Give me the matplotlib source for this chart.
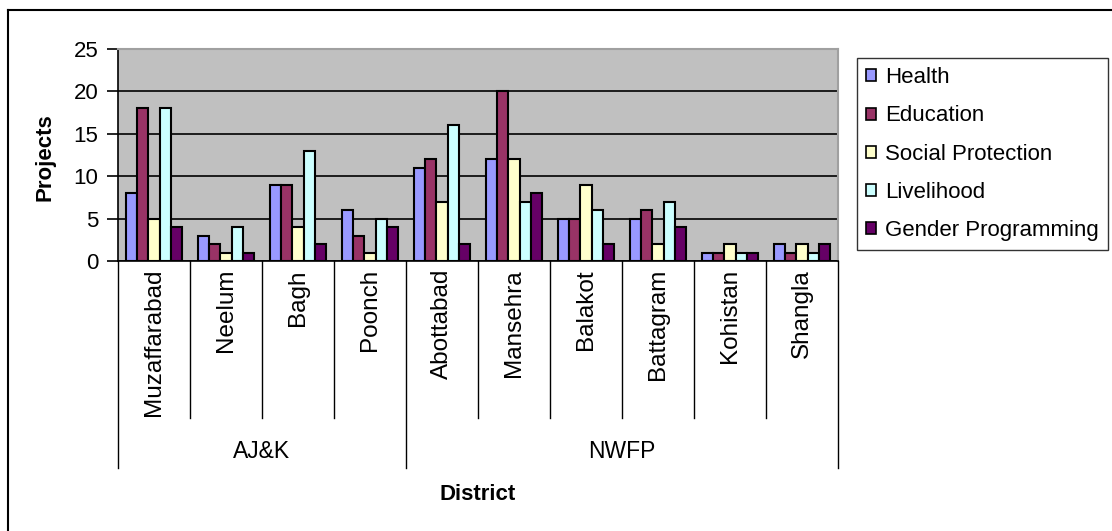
import matplotlib
matplotlib.use("Agg")
import matplotlib.pyplot as plt
import numpy as np
from matplotlib.lines import Line2D
from matplotlib.patches import Patch
from matplotlib.transforms import blended_transform_factory

plt.rcParams['font.family'] = ['Liberation Sans', 'DejaVu Sans']

districts = ["Muzaffarabad", "Neelum", "Bagh", "Poonch", "Abottabad",
             "Mansehra", "Balakot", "Battagram", "Kohistan", "Shangla"]
regions = ["AJ&K", "NWFP"]
region_sizes = [4, 6]
series_names = ["Health", "Education", "Social Protection", "Livelihood",
                "Gender Programming"]
health = [8, 3, 9, 6, 11, 12, 5, 5, 1, 2]
education = [18, 2, 9, 3, 12, 20, 5, 6, 1, 1]
social_protection = [5, 1, 4, 1, 7, 12, 9, 2, 2, 2]
livelihood = [18, 4, 13, 5, 16, 7, 6, 7, 1, 1]
gender = [4, 1, 2, 4, 2, 8, 2, 4, 1, 2]
series = [health, education, social_protection, livelihood, gender]
colors = ["#9999FF", "#993366", "#FFFFCC", "#CCFFFF", "#660066"]

W, H = 1112, 531
fig = plt.figure(figsize=(W / 100, H / 100), dpi=100)

def fx(px):
    return px / W

def fy(py):
    return 1 - py / H

L, R, T, B = 118, 838, 49, 261
ax = fig.add_axes([fx(L), fy(B), fx(R - L), (B - T) / H])
ax.set_facecolor("#C0C0C0")

n = len(districts)
x = np.arange(n)
bw = 0.156
for i, (vals, c, name) in enumerate(zip(series, colors, series_names)):
    ax.bar(x + (i - 2) * bw, vals, width=bw, color=c, edgecolor="black",
           linewidth=1.5, label=name, zorder=3)

ax.set_xlim(-0.5, n - 0.5)
ax.set_ylim(0, 25)
ax.set_yticks([0, 5, 10, 15, 20, 25])
ax.yaxis.grid(True, color="black", linewidth=1.2, zorder=1)
ax.set_axisbelow(True)
ax.tick_params(axis="y", direction="out", length=8, width=1.2,
               labelsize=16, pad=6)
ax.set_xticks([])
for s in ["top", "right"]:
    ax.spines[s].set_color("#A0A0A0")
    ax.spines[s].set_linewidth(1.5)
for s in ["left", "bottom"]:
    ax.spines[s].set_color("black")
    ax.spines[s].set_linewidth(1.2)

# category axis labels and separators
tr = blended_transform_factory(ax.transData, fig.transFigure)
for i, d in enumerate(districts):
    ax.text(i, fy(269), d, transform=tr, rotation=90, ha="center", va="top",
            fontsize=17.5)
bounds = np.arange(n + 1) - 0.5
group_edges = np.concatenate([[0], np.cumsum(region_sizes)])
for b_i, bx in enumerate(bounds):
    long = b_i in group_edges
    y_end = 468 if long else 418
    fig.add_artist(Line2D([bx, bx], [fy(B), fy(y_end)], transform=tr,
                          color="black", linewidth=1.0))
for g, (start, size) in enumerate(zip(group_edges[:-1], region_sizes)):
    centre = start + size / 2 - 0.5
    ax.text(centre, fy(452), regions[g], transform=tr, ha="center",
            va="center", fontsize=16.5)

fig.text(fx(478), fy(494), "District", ha="center", va="center",
         fontsize=16, fontweight="bold")
fig.text(fx(45), fy(157), "Projects", ha="center", va="center",
         rotation=90, fontsize=16, fontweight="bold")

# outer chart border (left and top only visible)
fig.add_artist(Line2D([fx(8), fx(8)], [fy(10), 0], transform=fig.transFigure,
                      color="black", linewidth=1.5))
fig.add_artist(Line2D([fx(8), 1], [fy(10), fy(10)], transform=fig.transFigure,
                      color="black", linewidth=1.5))

handles = [Patch(facecolor=c, edgecolor="black", linewidth=1.2, label=nm)
           for c, nm in zip(colors, series_names)]
leg = fig.legend(handles=handles, loc="upper left",
                 bbox_to_anchor=(fx(857), fy(58)), fontsize=16,
                 frameon=True, fancybox=False, edgecolor="black",
                 handlelength=0.45, handleheight=0.45, handletextpad=0.4,
                 labelspacing=0.77, borderpad=0.42, borderaxespad=0)
leg.get_frame().set_linewidth(1.0)

fig.savefig("out.png", dpi=100)
